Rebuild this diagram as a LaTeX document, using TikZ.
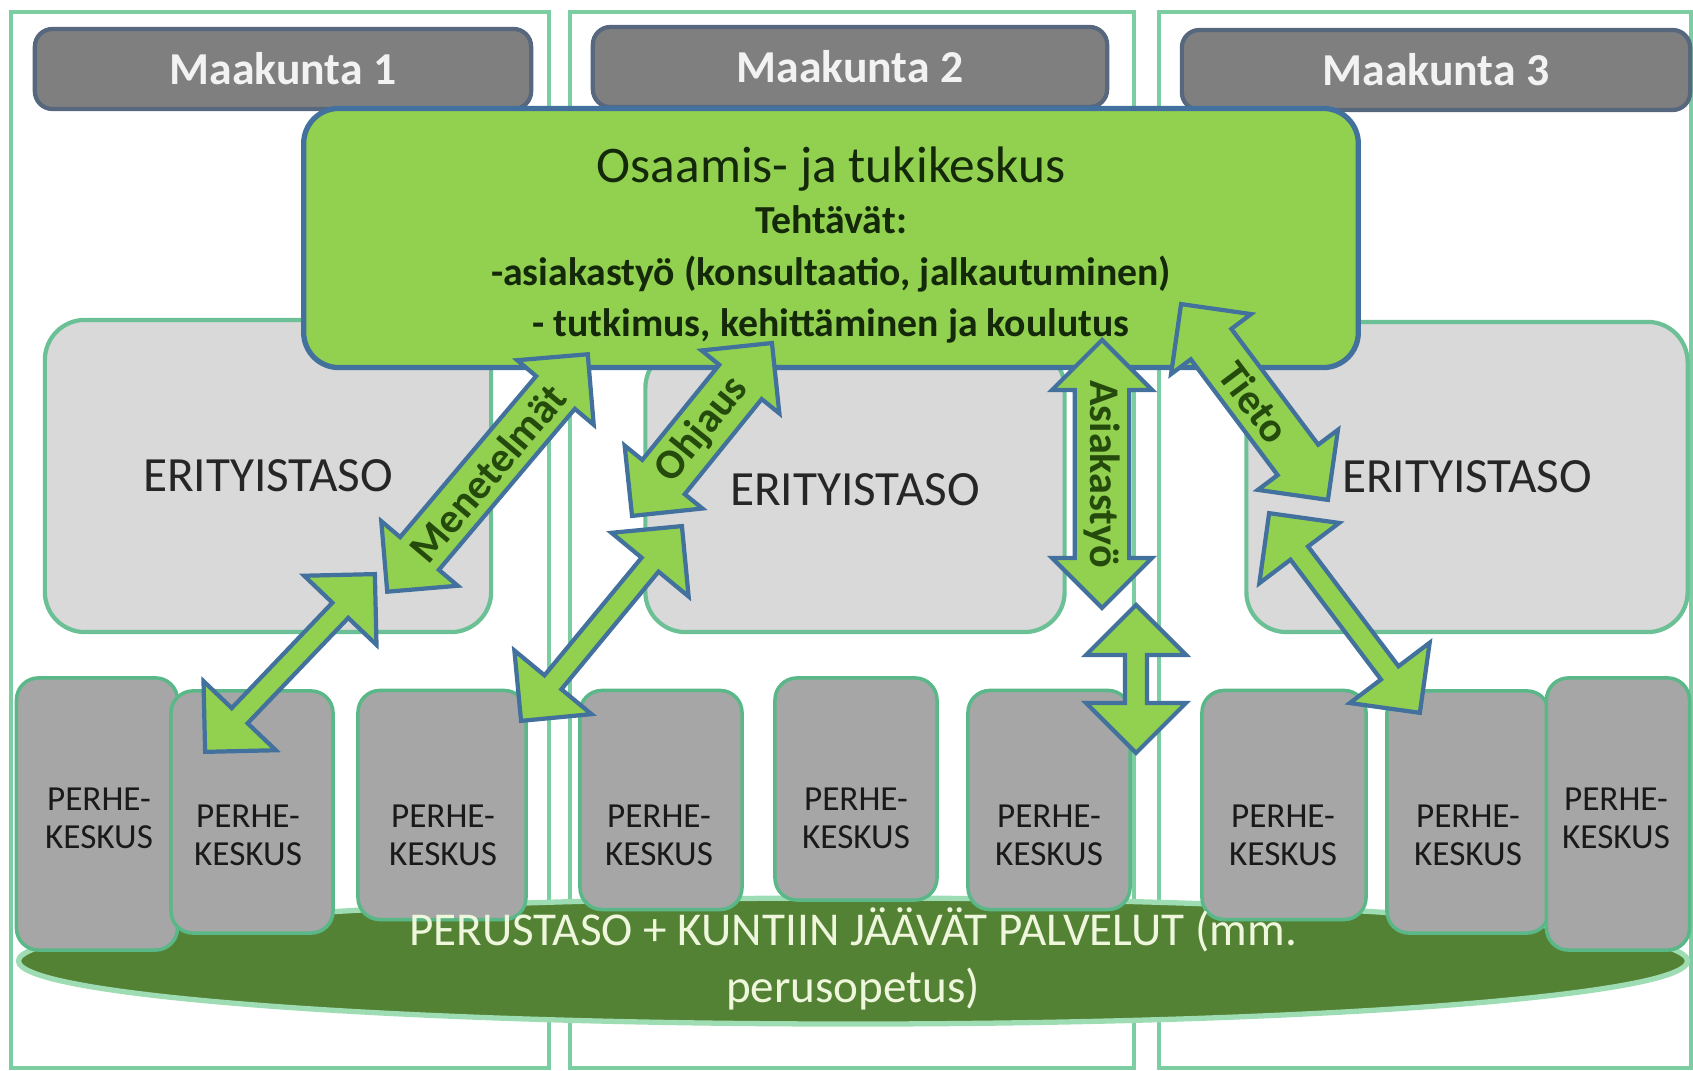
\documentclass[tikz,border=0pt]{standalone}
\usepackage{fontspec}
\setmainfont{Carlito}
\usepackage{xcolor}
\usepackage{tikz}
\usetikzlibrary{arrows.meta, positioning, shapes.geometric, shapes.arrows, calc}

\definecolor{framegreen}{HTML}{7CCDA2}
\definecolor{headergray}{HTML}{7F7F7F}
\definecolor{headerline}{HTML}{56677E}
\definecolor{headertext}{HTML}{F2F2F2}
\definecolor{hubgreen}{HTML}{92D050}
\definecolor{hubline}{HTML}{41719C}
\definecolor{hubtext}{HTML}{14290A}
\definecolor{erityisfill}{HTML}{D9D9D9}
\definecolor{erityisline}{HTML}{6CC095}
\definecolor{erityistext}{HTML}{262626}
\definecolor{perhefill}{HTML}{A6A6A6}
\definecolor{perheline}{HTML}{5AB888}
\definecolor{perhetext}{HTML}{1A1A1A}
\definecolor{perusgreen}{HTML}{548235}
\definecolor{perusline}{HTML}{9EDDB4}
\definecolor{perustext}{HTML}{EEF6DC}
\definecolor{arrowtext}{HTML}{244A0C}

\begin{document}
\begin{tikzpicture}[
    x=0.01cm, y=-0.01cm,
    colframe/.style={draw=framegreen, line width=1pt},
    header/.style={
        rectangle, rounded corners=5pt, draw=headerline, line width=1.2pt,
        fill=headergray, text=headertext, minimum width=#1, minimum height=0.8cm,
        font=\fontsize{13}{15}\selectfont\bfseries
    },
    hub/.style={
        rectangle, rounded corners=0.35cm, draw=hubline, line width=1.5pt,
        fill=hubgreen, minimum width=10.54cm, minimum height=2.59cm
    },
    hubtxt/.style={
        align=center, text=hubtext,
        font=\fontsize{11.3}{14.6}\selectfont\bfseries
    },
    erityis/.style={
        rectangle, rounded corners=0.4cm, draw=erityisline, line width=1.2pt,
        fill=erityisfill, text=erityistext, font=\fontsize{14}{16}\selectfont
    },
    perhe/.style={
        rectangle, rounded corners=0.22cm, draw=perheline, line width=1pt,
        fill=perhefill
    },
    perhetxt/.style={
        align=center, text=perhetext, font=\fontsize{10}{10.8}\selectfont
    },
    perus/.style={
        ellipse, draw=perusline, line width=1.5pt, fill=perusgreen,
        minimum width=16.68cm, minimum height=1.26cm
    },
    perustxt/.style={
        align=center, text=perustext, font=\fontsize{13.4}{16.2}\selectfont
    },
    fatarrow/.style={
        double arrow, draw=hubline, line width=1.2pt, fill=hubgreen,
        minimum width=1.0cm, double arrow head extend=0.2cm,
        inner xsep=0pt, inner ysep=1pt, text=arrowtext,
        font=\fontsize{12}{12}\selectfont\bfseries
    }
]
\useasboundingbox (0,0) rectangle (1693,1071);

% Maakunta columns
\draw[colframe] (11,12) rectangle (549,1068);
\draw[colframe] (570,12) rectangle (1134,1068);
\draw[colframe] (1159,12) rectangle (1691,1068);

% Headers
\node[header=4.96cm] (mk1) at (283,69) {Maakunta 1};
\node[header=5.14cm] (mk2) at (850,67) {Maakunta 2};
\node[header=5.08cm] (mk3) at (1436,70) {Maakunta 3};

% Erityistaso
\node[erityis, minimum width=4.46cm, minimum height=3.12cm] (erit1) at (268,476) {ERITYISTASO};
\node[erityis, minimum width=4.19cm, minimum height=2.84cm] (erit2) at (855,490) {ERITYISTASO};
\node[erityis, minimum width=4.41cm, minimum height=3.10cm] (erit3) at (1467,477) {ERITYISTASO};

% Osaamis- ja tukikeskus
\node[hub] (hub) at (831,238) {};
\node[hubtxt] (hub-txt) at (831,245) {{\fontsize{14.6}{15}\selectfont\mdseries Osaamis- ja tukikeskus}\\
    Tehtävät:\\
    -asiakastyö (konsultaatio, jalkautuminen)\\
    - tutkimus, kehittäminen ja koulutus};

% Perustaso
\node[perus] (perus) at (853,961) {};

% Perhekeskukset
\node[perhe, minimum width=1.61cm, minimum height=2.72cm] (pA) at (97,814) {};
\node[perhe, minimum width=1.62cm, minimum height=2.42cm] (pB) at (252,812) {};
\node[perhe, minimum width=1.68cm, minimum height=2.29cm] (pC) at (442,805) {};
\node[perhe, minimum width=1.62cm, minimum height=2.19cm] (pD) at (661,800) {};
\node[perhe, minimum width=1.62cm, minimum height=2.22cm] (pE) at (856,789) {};
\node[perhe, minimum width=1.62cm, minimum height=2.19cm] (pF) at (1049,800) {};
\node[perhe, minimum width=1.64cm, minimum height=2.29cm] (pG) at (1284,805) {};
\node[perhe, minimum width=1.62cm, minimum height=2.42cm] (pH) at (1468,812) {};
\node[perhe, minimum width=1.43cm, minimum height=2.72cm] (pI) at (1618,814) {};

\node[perhetxt] (pA-txt) at (99,818) {PERHE-\\KESKUS};
\node[perhetxt] (pB-txt) at (248,835) {PERHE-\\KESKUS};
\node[perhetxt] (pC-txt) at (443,835) {PERHE-\\KESKUS};
\node[perhetxt] (pD-txt) at (659,835) {PERHE-\\KESKUS};
\node[perhetxt] (pE-txt) at (856,818) {PERHE-\\KESKUS};
\node[perhetxt] (pF-txt) at (1049,835) {PERHE-\\KESKUS};
\node[perhetxt] (pG-txt) at (1283,835) {PERHE-\\KESKUS};
\node[perhetxt] (pH-txt) at (1468,835) {PERHE-\\KESKUS};
\node[perhetxt] (pI-txt) at (1616,818) {PERHE-\\KESKUS};

\node[perustxt] (perus-txt) at (853,959) {PERUSTASO + KUNTIIN JÄÄVÄT PALVELUT (mm.\\perusopetus)};

% Arrow ends
\coordinate (men-a) at (387,592);
\coordinate (men-b) at (588,354);
\coordinate (low1-a) at (205,752);
\coordinate (low1-b) at (375,574);
\coordinate (ohj-a) at (632,516);
\coordinate (ohj-b) at (772,343);
\coordinate (low2-a) at (521,721);
\coordinate (low2-b) at (682,526);
\coordinate (asi-a) at (1102,340);
\coordinate (asi-b) at (1102,608);
\coordinate (low3-a) at (1136,605);
\coordinate (low3-b) at (1136,753);
\coordinate (tie-a) at (1181,304);
\coordinate (tie-b) at (1328,500);
\coordinate (low4-a) at (1269,513);
\coordinate (low4-b) at (1420,713);

% Double arrows
\path let \p1 = ($(men-b)-(men-a)$), \n1 = {atan2(\y1,\x1)}, \n2 = {veclen(\x1,\y1)} in
    node[fatarrow, rotate=\n1, minimum height=\n2] (menetelmat) at ($(men-a)!0.5!(men-b)$) {Menetelmät};
\path let \p1 = ($(low1-b)-(low1-a)$), \n1 = {atan2(\y1,\x1)}, \n2 = {veclen(\x1,\y1)} in
    node[fatarrow, rotate=\n1, minimum height=\n2] (low1) at ($(low1-a)!0.5!(low1-b)$) {};
\path let \p1 = ($(ohj-b)-(ohj-a)$), \n1 = {atan2(\y1,\x1)}, \n2 = {veclen(\x1,\y1)} in
    node[fatarrow, rotate=\n1, minimum height=\n2] (ohjaus) at ($(ohj-a)!0.5!(ohj-b)$) {Ohjaus};
\path let \p1 = ($(low2-b)-(low2-a)$), \n1 = {atan2(\y1,\x1)}, \n2 = {veclen(\x1,\y1)} in
    node[fatarrow, rotate=\n1, minimum height=\n2] (low2) at ($(low2-a)!0.5!(low2-b)$) {};
\path let \p1 = ($(asi-b)-(asi-a)$), \n1 = {atan2(\y1,\x1)}, \n2 = {veclen(\x1,\y1)} in
    node[fatarrow, rotate=\n1, minimum height=\n2] (asiakastyo) at ($(asi-a)!0.5!(asi-b)$) {Asiakastyö};
\path let \p1 = ($(low3-b)-(low3-a)$), \n1 = {atan2(\y1,\x1)}, \n2 = {veclen(\x1,\y1)} in
    node[fatarrow, rotate=\n1, minimum height=\n2] (low3) at ($(low3-a)!0.5!(low3-b)$) {};
\path let \p1 = ($(tie-b)-(tie-a)$), \n1 = {atan2(\y1,\x1)}, \n2 = {veclen(\x1,\y1)} in
    node[fatarrow, rotate=\n1, minimum height=\n2] (tieto) at ($(tie-a)!0.5!(tie-b)$) {Tieto};
\path let \p1 = ($(low4-b)-(low4-a)$), \n1 = {atan2(\y1,\x1)}, \n2 = {veclen(\x1,\y1)} in
    node[fatarrow, rotate=\n1, minimum height=\n2] (low4) at ($(low4-a)!0.5!(low4-b)$) {};

\end{tikzpicture}
\end{document}
